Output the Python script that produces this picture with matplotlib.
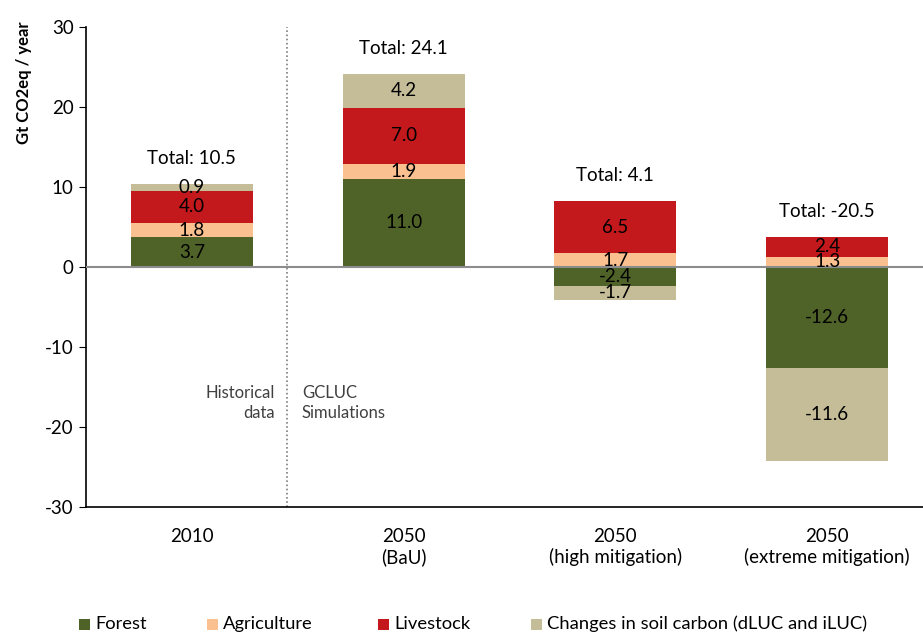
import matplotlib
matplotlib.use("Agg")
import matplotlib.pyplot as plt
from matplotlib.patches import Rectangle
import numpy as np

categories = ["2010", "2050\n(BaU)", "2050\n(high mitigation)", "2050\n(extreme mitigation)"]
forest = [3.7, 11.0, -2.4, -12.6]
agriculture = [1.8, 1.9, 1.7, 1.3]
livestock = [4.0, 7.0, 6.5, 2.4]
soil = [0.9, 4.2, -1.7, -11.6]
totals = [10.5, 24.1, 4.1, -20.5]
yticks = [-30, -20, -10, 0, 10, 20, 30]

series = [("Forest", forest, "#4F6228"),
          ("Agriculture", agriculture, "#FAC090"),
          ("Livestock", livestock, "#C3191C"),
          ("Changes in soil carbon (dLUC and iLUC)", soil, "#C4BD97")]

plt.rcParams['font.family'] = ['Lato', 'DejaVu Sans']

fig = plt.figure(figsize=(9.23, 6.35), dpi=100)
W, H = 923, 635
ax = fig.add_axes([86 / W, 1 - 507 / H, (933 - 86) / W, (507 - 27) / H])

x = np.arange(len(categories))
width = 0.576
pos_base = np.zeros(len(x))
neg_base = np.zeros(len(x))
for name, vals, col in series:
    vals = np.array(vals, dtype=float)
    bottoms = np.where(vals >= 0, pos_base, neg_base)
    ax.bar(x, vals, width, bottom=bottoms, color=col, label=name, zorder=2)
    for i, v in enumerate(vals):
        ax.text(x[i], bottoms[i] + v / 2, f"{v:.1f}", ha="center", va="center",
                fontsize=13.5, color="black", zorder=4)
    pos_base = np.where(vals >= 0, pos_base + vals, pos_base)
    neg_base = np.where(vals < 0, neg_base + vals, neg_base)

for i, t in enumerate(totals):
    ax.text(x[i], pos_base[i] + 3.2, f"Total: {t:.1f}", ha="center", va="center",
            fontsize=13.5, color="black")

ax.axhline(0, color="#8C8C8C", lw=1.5, zorder=3)
ax.plot([0.449, 0.449], [-30, 30], color="#7F7F7F", lw=1.2, ls=(0, (1, 1.5)), zorder=1)
ax.text(0.39, -17, "Historical\ndata", ha="right", va="center", fontsize=12, color="#404040",
        linespacing=1.3)
ax.text(0.52, -17, "GCLUC\nSimulations", ha="left", va="center", fontsize=12, color="#404040",
        linespacing=1.3)

ax.set_xlim(-0.5, 3.5)
ax.set_ylim(-30, 30)
ax.set_yticks(yticks)
ax.set_yticklabels([str(v) for v in yticks], fontsize=13.5)
ax.set_xticks(x)
ax.set_xticklabels(categories, fontsize=13.5)
ax.tick_params(axis="x", length=0, pad=15)
ax.tick_params(axis="y", length=5, direction="out", pad=4)
for s in ["top", "right"]:
    ax.spines[s].set_visible(False)
ax.spines["left"].set_color("black")
ax.spines["bottom"].set_color("black")
ax.spines["left"].set_linewidth(1.2)
ax.spines["bottom"].set_linewidth(1.2)
ax.set_ylabel("Gt CO2eq / year", fontsize=12, fontweight="bold", labelpad=4)
ax.yaxis.set_label_coords(-0.064, 0.885)

# legend, drawn manually to match the reference spacing
leg_x = [79, 207, 378, 531]
leg_y = 624
sq = 11
for (name, _, col), lx in zip(series, leg_x):
    fig.add_artist(Rectangle((lx / W, (H - leg_y - sq / 2) / H), sq / W, sq / H,
                             transform=fig.transFigure, facecolor=col, edgecolor="none"))
    fig.text((lx + sq + 5) / W, (H - leg_y) / H, name, ha="left", va="center",
             fontsize=13.2, color="black")

fig.savefig("out.png", dpi=100)
